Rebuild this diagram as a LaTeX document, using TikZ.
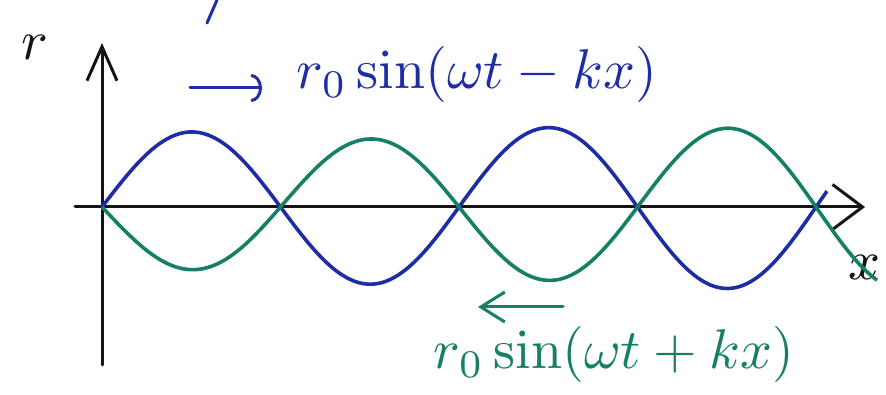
\documentclass[tikz,border=0pt]{standalone}
\usepackage{amsmath}
\usepackage{tikz}
\usetikzlibrary{arrows.meta}
\definecolor{waveblue}{RGB}{30,45,165}
\definecolor{wavegreen}{RGB}{22,128,100}
\definecolor{inkblack}{RGB}{20,20,20}

\begin{document}
\begin{tikzpicture}[x=1pt, y=1pt,
  axis/.style={draw=inkblack, line width=3pt, line cap=round},
  wave/.style={line width=3.6pt, smooth, samples=200},
  formula/.style={scale=5.6, inner sep=0pt},
  hint/.style={line width=3pt, line cap=round}
]
  \useasboundingbox (-102,-188) rectangle (784,207);

  % axes
  \coordinate (ybot) at (0,-158);
  \coordinate (ytop) at (0,164);
  \coordinate (xleft) at (-27,0);
  \coordinate (xright) at (763,0);
  \draw[axis, -{Straight Barb[length=34pt,width=30pt]}] (ybot) -- (ytop);
  \draw[axis, -{Straight Barb[length=30pt,width=45pt]}] (xleft) -- (xright);
  \node[formula, text=inkblack] (rlab) at (-67,160) {$r$};
  \node[formula, text=inkblack] (xlab) at (762,-60) {$x$};

  % the two waves
  \draw[wave, waveblue, domain=0:725] plot (\x, {(74+0.012*\x)*sin(\x*1.0084)});
  \draw[wave, wavegreen, domain=0:775] plot (\x, {-(60+0.03*\x)*sin(\x*1.0084)});

  % labels with direction of travel
  \node[formula, text=waveblue] (fminus) at (375,132) {$r_0\sin(\omega t - kx)$};
  \coordinate (bstart) at (88,119);
  \coordinate (bend) at (160,119);
  \draw[hint, waveblue, -{Arc Barb[length=11pt,width=28pt]}] (bstart) -- (bend);

  \node[formula, text=wavegreen] (fplus) at (512,-148) {$r_0\sin(\omega t + kx)$};
  \coordinate (gstart) at (461,-100);
  \coordinate (gend) at (376,-100);
  \draw[hint, wavegreen, -{Straight Barb[length=24pt,width=30pt]}] (gstart) -- (gend);

  % cut-off stroke at the top edge
  \coordinate (topa) at (105,184);
  \coordinate (topb) at (115,207);
  \draw[hint, waveblue] (topa) -- (topb);
\end{tikzpicture}
\end{document}
